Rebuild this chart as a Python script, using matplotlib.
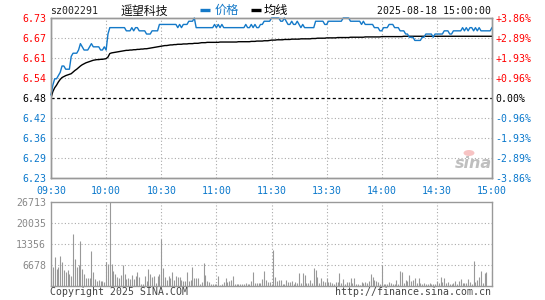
import numpy as np
import matplotlib
matplotlib.use("Agg")
import matplotlib.pyplot as plt
from matplotlib.lines import Line2D
from matplotlib.patches import Circle

plt.rcParams['font.family'] = ['DejaVu Sans Mono', 'Noto Sans CJK SC']

symbol = "sz002291"
name = "遥望科技"
stamp = "2025-08-18 15:00:00"
legend_labels = ["价格", "均线"]
prev_close = 6.48
pct_range = 0.0386
time_labels = ["09:30", "10:00", "10:30", "11:00", "11:30", "13:30", "14:00", "14:30", "15:00"]
price_labels = ["6.73", "6.67", "6.61", "6.54", "6.48", "6.42", "6.36", "6.29", "6.23"]
pct_labels = ["+3.86%", "+2.89%", "+1.93%", "+0.96%", "0.00%", "-0.96%", "-1.93%", "-2.89%", "-3.86%"]
vol_labels = ["26713", "20035", "13356", "6678"]
vol_max = 26713

price = [
    6.49, 6.52, 6.54, 6.54, 6.55, 6.56, 6.58, 6.58, 6.57, 6.57,
    6.57, 6.61, 6.62, 6.62, 6.62, 6.63, 6.65, 6.64, 6.63, 6.63,
    6.63, 6.64, 6.65, 6.64, 6.64, 6.64, 6.64, 6.63, 6.63, 6.64,
    6.63, 6.68, 6.70, 6.70, 6.70, 6.70, 6.70, 6.70, 6.70, 6.70,
    6.70, 6.69, 6.69, 6.69, 6.70, 6.69, 6.70, 6.70, 6.69, 6.69,
    6.69, 6.69, 6.68, 6.68, 6.68, 6.69, 6.69, 6.69, 6.69, 6.71,
    6.71, 6.71, 6.71, 6.71, 6.71, 6.71, 6.71, 6.71, 6.71, 6.70,
    6.71, 6.70, 6.71, 6.71, 6.71, 6.72, 6.72, 6.72, 6.73, 6.70,
    6.70, 6.70, 6.70, 6.70, 6.70, 6.70, 6.70, 6.70, 6.70, 6.71,
    6.70, 6.71, 6.70, 6.71, 6.70, 6.70, 6.70, 6.70, 6.70, 6.70,
    6.70, 6.70, 6.70, 6.70, 6.70, 6.70, 6.71, 6.70, 6.70, 6.71,
    6.70, 6.71, 6.70, 6.70, 6.71, 6.71, 6.72, 6.72, 6.72, 6.72,
    6.73, 6.73, 6.73, 6.73, 6.73, 6.72, 6.72, 6.73, 6.72, 6.71,
    6.71, 6.72, 6.71, 6.71, 6.72, 6.71, 6.70, 6.71, 6.70, 6.70,
    6.70, 6.70, 6.70, 6.70, 6.72, 6.72, 6.72, 6.72, 6.72, 6.71,
    6.71, 6.72, 6.72, 6.72, 6.72, 6.72, 6.72, 6.72, 6.72, 6.73,
    6.73, 6.73, 6.73, 6.72, 6.72, 6.72, 6.72, 6.72, 6.72, 6.71,
    6.72, 6.71, 6.71, 6.71, 6.71, 6.71, 6.70, 6.70, 6.70, 6.69,
    6.69, 6.70, 6.70, 6.70, 6.71, 6.71, 6.71, 6.70, 6.70, 6.70,
    6.69, 6.69, 6.69, 6.68, 6.68, 6.67, 6.67, 6.67, 6.66, 6.66,
    6.66, 6.66, 6.67, 6.67, 6.68, 6.68, 6.68, 6.68, 6.67, 6.68,
    6.68, 6.68, 6.68, 6.68, 6.69, 6.69, 6.69, 6.68, 6.68, 6.69,
    6.69, 6.69, 6.69, 6.69, 6.70, 6.69, 6.70, 6.69, 6.70, 6.70,
    6.69, 6.70, 6.69, 6.70, 6.69, 6.69, 6.69, 6.69, 6.69, 6.69,
    6.70,
]

avg = [
    6.480, 6.500, 6.512, 6.520, 6.530, 6.538, 6.544, 6.547, 6.550, 6.552,
    6.554, 6.556, 6.561, 6.566, 6.570, 6.575, 6.580, 6.584, 6.587, 6.590,
    6.592, 6.594, 6.596, 6.598, 6.599, 6.600, 6.600, 6.601, 6.601, 6.602,
    6.603, 6.608, 6.619, 6.621, 6.622, 6.623, 6.624, 6.625, 6.626, 6.627,
    6.628, 6.629, 6.629, 6.630, 6.630, 6.631, 6.631, 6.632, 6.632, 6.633,
    6.633, 6.634, 6.634, 6.635, 6.636, 6.637, 6.638, 6.639, 6.640, 6.641,
    6.642, 6.643, 6.644, 6.644, 6.645, 6.646, 6.646, 6.647, 6.647, 6.648,
    6.648, 6.648, 6.649, 6.649, 6.649, 6.650, 6.650, 6.650, 6.651, 6.651,
    6.651, 6.652, 6.653, 6.653, 6.653, 6.654, 6.654, 6.654, 6.654, 6.654,
    6.654, 6.654, 6.655, 6.655, 6.655, 6.655, 6.655, 6.655, 6.655, 6.655,
    6.655, 6.655, 6.656, 6.656, 6.656, 6.656, 6.656, 6.656, 6.656, 6.657,
    6.657, 6.657, 6.658, 6.658, 6.658, 6.658, 6.659, 6.659, 6.659, 6.660,
    6.661, 6.661, 6.661, 6.662, 6.662, 6.662, 6.662, 6.663, 6.663, 6.663,
    6.663, 6.664, 6.664, 6.664, 6.664, 6.664, 6.665, 6.665, 6.665, 6.665,
    6.665, 6.665, 6.666, 6.666, 6.666, 6.667, 6.667, 6.667, 6.667, 6.667,
    6.668, 6.668, 6.668, 6.668, 6.668, 6.668, 6.669, 6.669, 6.669, 6.669,
    6.669, 6.669, 6.669, 6.670, 6.670, 6.670, 6.670, 6.670, 6.670, 6.670,
    6.670, 6.671, 6.671, 6.671, 6.671, 6.671, 6.671, 6.671, 6.671, 6.671,
    6.672, 6.672, 6.672, 6.672, 6.672, 6.672, 6.672, 6.672, 6.672, 6.672,
    6.672, 6.672, 6.673, 6.673, 6.673, 6.673, 6.673, 6.673, 6.673, 6.673,
    6.673, 6.673, 6.673, 6.673, 6.673, 6.673, 6.673, 6.673, 6.673, 6.673,
    6.673, 6.673, 6.673, 6.673, 6.673, 6.673, 6.673, 6.673, 6.673, 6.673,
    6.673, 6.673, 6.673, 6.673, 6.673, 6.673, 6.673, 6.673, 6.673, 6.673,
    6.673, 6.673, 6.673, 6.673, 6.673, 6.673, 6.673, 6.673, 6.673, 6.673,
    6.673,
]

volume = [
    1600, 6100, 9000, 5350, 5800, 9300, 7500, 5150, 4500, 5150,
    3850, 3200, 16400, 8350, 6100, 6650, 14100, 5450, 3850, 2570,
    2570, 2350, 10900, 4500, 2140, 1400, 1900, 1600, 1500, 1200,
    7400, 7000, 26713, 6750, 4800, 3850, 2900, 2450, 3400, 6650,
    3850, 2140, 2450, 2250, 3550, 2250, 3200, 4500, 2800, 540,
    540, 3200, 1500, 5350, 3750, 2900, 3200, 960, 3200, 3750,
    14700, 5700, 2900, 1900, 3100, 2450, 4200, 1900, 3100, 2700,
    2900, 1800, 1600, 1600, 4500, 1600, 1900, 5800, 2570,
    2570, 2570, 540, 1070, 7170, 3530, 1600, 1280, 540, 540,
    540, 540, 3200, 320, 640, 1070, 2570, 1070, 1600, 1930,
    3100, 540, 540, 540, 540, 540, 540, 960, 640, 540,
    1600, 4500, 750, 750, 750, 750, 2250, 4800, 1930, 1280,
    1280, 540, 11450, 2900, 1600, 1930, 1930, 640, 540, 1930,
    1280, 1070, 1600, 540, 1070, 860, 4170, 960, 4170, 3530,
    960, 960, 1930, 960, 5780, 5140, 2890, 960, 2570, 1500,
    1280, 2570, 1280, 1280, 860, 640, 1070, 1070, 4170,
    960, 2250, 540, 1280, 1280, 2570, 860, 2570, 640, 640,
    320, 1280, 960, 1280, 750, 1600, 3850, 2890, 1930, 1600,
    1280, 540, 6740, 540, 540, 540, 1280, 960, 540, 540,
    1930, 540, 4800, 4500, 860, 1930, 1600, 3530, 1600, 1930,
    2570, 960, 2570, 960, 640, 960, 640, 640, 750, 640,
    640, 640, 1600, 960, 2890, 1280, 2570, 960, 1280, 640,
    640, 960, 1600, 640, 1600, 2250, 960, 860, 960, 2250,
    1280, 640, 7700, 1280, 1930, 2890, 4800, 860, 4170, 4500,
    0, 0, 4800,
]

W, H = 545, 300
def fx(px):
    return px / W
def fy(py):
    return 1 - py / H

RED = "#ff0000"
BLUE = "#0a78cc"
LINE_BLUE = "#1479c8"
FRAME = "#999999"
GRID = "#aaaaaa"
GRAY_TXT = "#888888"

fig = plt.figure(figsize=(W / 100, H / 100), dpi=100)
fig.patch.set_facecolor("white")

x0, x1 = 51, 492
ax = fig.add_axes([fx(x0), fy(178), (x1 - x0) / W, 160 / H])
axv = fig.add_axes([fx(x0), fy(285.7), (x1 - x0) / W, 84 / H])

minutes = np.arange(len(price))
xticks = np.linspace(0, 240, len(time_labels))
ylo, yhi = prev_close * (1 - pct_range), prev_close * (1 + pct_range)
yticks = np.linspace(yhi, ylo, len(price_labels))

# ---- price panel ----
ax.set_xlim(0, 240)
ax.set_ylim(ylo, yhi)
for yt in yticks[1:-1]:
    if abs(yt - prev_close) < 1e-6:
        continue
    ax.axhline(yt, color=GRID, lw=0.8, ls=(0, (1, 2)), zorder=1)
for xt in xticks[1:-1]:
    ax.axvline(xt, color=GRID, lw=0.8, ls=(0, (1, 2)), zorder=1)
ax.axhline(prev_close, color="black", lw=0.9, ls=(0, (2.5, 2)), zorder=2)
ax.plot(minutes, avg, color="black", lw=1.0, zorder=3)
ax.plot(minutes, price, color=LINE_BLUE, lw=1.0, zorder=4, clip_on=False)

ax.set_yticks(yticks)
ax.set_yticklabels(price_labels)
ax.set_xticks(xticks)
ax.set_xticklabels(time_labels)
ax.tick_params(axis="both", length=0, labelsize=7.1)
ax.tick_params(axis="y", pad=3.5)
ax.tick_params(axis="x", pad=5.5)
for lab in ax.get_xticklabels():
    lab.set_color(BLUE)
for lab, txt in zip(ax.get_yticklabels(), price_labels):
    v = float(txt)
    lab.set_color(RED if v > prev_close else ("black" if v == prev_close else BLUE))
for sp in ax.spines.values():
    sp.set_color(FRAME)
    sp.set_linewidth(1.0)

ax2 = ax.twinx()
ax2.set_ylim(ylo, yhi)
ax2.set_yticks(yticks)
ax2.set_yticklabels(pct_labels)
ax2.tick_params(axis="y", length=0, labelsize=7.1, pad=2.5)
for lab, txt in zip(ax2.get_yticklabels(), pct_labels):
    lab.set_color(RED if txt.startswith("+") else (BLUE if txt.startswith("-") else "black"))
for sp in ax2.spines.values():
    sp.set_color(FRAME)
    sp.set_linewidth(1.0)

# ---- volume panel ----
axv.set_xlim(0, 240)
axv.set_ylim(0, vol_max)
vticks = np.linspace(vol_max, 0, 5)
for vt in vticks[1:-1]:
    axv.axhline(vt, color=GRID, lw=0.8, ls=(0, (1, 2)), zorder=1)
for xt in xticks[1:-1]:
    axv.axvline(xt, color=GRID, lw=0.8, ls=(0, (1, 2)), zorder=1)
axv.vlines(minutes, 0, volume, color="#999999", lw=0.8, zorder=3)
axv.set_yticks(vticks[:-1])
axv.set_yticklabels(vol_labels)
axv.set_xticks([])
axv.tick_params(axis="y", length=0, labelsize=7.1, pad=3.5, colors=GRAY_TXT)
for sp in axv.spines.values():
    sp.set_color(FRAME)
    sp.set_linewidth(1.0)

# ---- header ----
fig.text(fx(50), fy(11), symbol, fontsize=7.1, ha="left", va="center", color="#222222")
fig.text(fx(144), fy(11), name, fontsize=8.6, ha="center", va="center", color="#111111",
         family=["Noto Sans CJK SC", "DejaVu Sans"])
fig.add_artist(Line2D([fx(200), fx(210)], [fy(10), fy(10)], transform=fig.transFigure,
                      color=LINE_BLUE, lw=2.4, solid_capstyle="butt"))
fig.text(fx(215), fy(10.5), legend_labels[0], fontsize=8.8, ha="left", va="center", color=LINE_BLUE,
         family=["Noto Sans CJK SC", "DejaVu Sans"])
fig.add_artist(Line2D([fx(251), fx(261)], [fy(10), fy(10)], transform=fig.transFigure,
                      color="black", lw=2.4, solid_capstyle="butt"))
fig.text(fx(264), fy(10.5), legend_labels[1], fontsize=8.8, ha="left", va="center", color="black",
         family=["Noto Sans CJK SC", "DejaVu Sans"])
fig.text(fx(491), fy(11), stamp, fontsize=7.1, ha="right", va="center", color="#111111")

# ---- footer ----
fig.text(fx(50), fy(292), "Copyright 2025 SINA.COM", fontsize=7.1, ha="left", va="center", color="#444444")
fig.text(fx(491), fy(292), "http://finance.sina.com.cn", fontsize=7.1, ha="right", va="center", color="#444444")

# ---- watermark ----
fig.text(fx(473), fy(164), "sina", fontsize=11.5, fontstyle="italic", fontweight="bold",
         ha="center", va="center", color="#b8b8b8", family="DejaVu Sans", alpha=0.9)
fig.add_artist(Circle((fx(469), fy(153)), 0.010, transform=fig.transFigure,
                      facecolor="#f5b5b5", edgecolor="none", alpha=0.8))

fig.savefig("out.png", dpi=100)
